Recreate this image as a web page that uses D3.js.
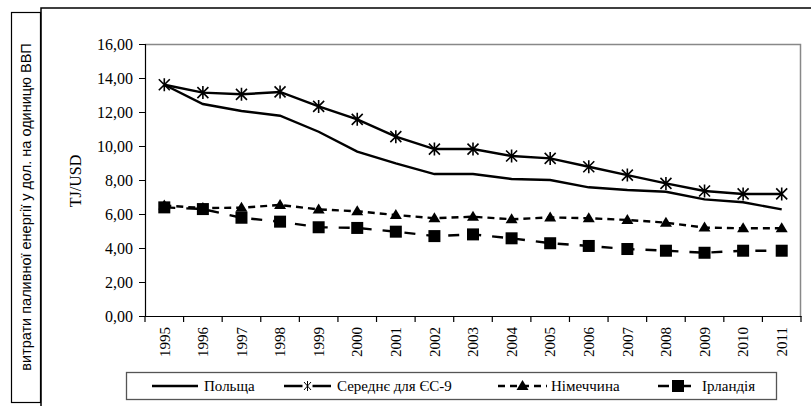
<!DOCTYPE html>
<html>
<head>
<meta charset="utf-8">
<script src="https://cdn.jsdelivr.net/npm/d3@7"></script>
<style>
  body { margin: 0; background: #fff; }
  svg { display: block; }
  svg text.sf, svg g.sf text { font-family: "Liberation Serif", "Times New Roman", "DejaVu Serif", "Noto Serif", serif !important; }
</style>
</head>
<body>
<div id="chart"></div>
<script>
// chart values
var years = ["1995", "1996", "1997", "1998", "1999", "2000", "2001", "2002", "2003",
    "2004", "2005", "2006", "2007", "2008", "2009", "2010", "2011"];
var poland = [13.6, 12.47, 12.06, 11.78, 10.84, 9.67, 8.98, 8.35, 8.35,
    8.06, 8.0, 7.57, 7.41, 7.31, 6.86, 6.69, 6.27];
var eu9 = [13.6, 13.14, 13.04, 13.18, 12.33, 11.57, 10.55, 9.82, 9.82,
    9.41, 9.27, 8.78, 8.29, 7.8, 7.35, 7.18, 7.18];
var germany = [6.5, 6.35, 6.37, 6.53, 6.27, 6.16, 5.94, 5.75, 5.84,
    5.69, 5.8, 5.75, 5.65, 5.49, 5.2, 5.16, 5.16];
var ireland = [6.39, 6.29, 5.78, 5.55, 5.22, 5.18, 4.96, 4.7, 4.8,
    4.57, 4.28, 4.12, 3.94, 3.84, 3.72, 3.84, 3.84];
var yTicks = [0, 2, 4, 6, 8, 10, 12, 14, 16];
var seriesNames = ["Польща", "Середнє для ЄС-9", "Німеччина", "Ірландія"];
var yTitle = "TJ/USD";
var sideTitle = "витрати паливної енергії у дол. на одиницю ВВП";

// Set up chart area
var svgWidth = 811;
var svgHeight = 406;
var margin = { top: 44, right: 10, bottom: 90, left: 145 };
var width = svgWidth - margin.left - margin.right;
var height = svgHeight - margin.top - margin.bottom;

var svg = d3.select("#chart")
    .append("svg")
    .attr("width", svgWidth)
    .attr("height", svgHeight);

// outer frame (only top and left edges are visible)
svg.append("path")
    .attr("d", "M41,406 L41,8 L811,8")
    .attr("fill", "none")
    .attr("stroke", "#000")
    .attr("stroke-width", 1.5);

// side box with title
svg.append("rect")
    .attr("x", 11.5).attr("y", 12.5)
    .attr("width", 29).attr("height", 390)
    .attr("fill", "#fff")
    .attr("stroke", "#000")
    .attr("stroke-width", 1.2);

svg.append("text")
    .attr("transform", "translate(31, 207) rotate(-90)")
    .attr("text-anchor", "middle")
    .style("font-family", "'Liberation Sans', Arial, sans-serif")
    .style("font-size", "14.5px")
    .text(sideTitle);

var chartGroup = svg.append("g")
    .attr("transform", `translate(${margin.left}, ${margin.top})`);

// Scales
var xScale = d3.scaleBand()
    .domain(years)
    .range([0, width]);

var yScale = d3.scaleLinear()
    .domain([0, 16])
    .range([height, 0]);

var fmt = d3.formatLocale({ decimal: ",", thousands: " ", grouping: [3], currency: ["", ""] }).format(".2f");

// plot frame, grey top and right
chartGroup.append("path")
    .attr("d", `M0,0.5 H${width - 0.5} V${height}`)
    .attr("fill", "none")
    .attr("stroke", "#888")
    .attr("stroke-width", 1.5);

// Axes
var leftAxis = d3.axisLeft(yScale)
    .tickValues(yTicks)
    .tickSize(6)
    .tickPadding(6)
    .tickFormat(fmt);

var yAxisG = chartGroup.append("g")
    .call(leftAxis)
    .attr("class", "sf")
    .attr("font-size", 16);
yAxisG.select(".domain").attr("stroke", "#000").attr("stroke-width", 1.2);
yAxisG.selectAll("text").attr("fill", "#000");

var bottomAxis = d3.axisBottom(xScale)
    .tickSize(0)
    .tickPadding(9);

var xAxisG = chartGroup.append("g")
    .attr("transform", `translate(0, ${height})`)
    .call(bottomAxis)
    .attr("class", "sf")
    .attr("font-size", 15);
xAxisG.select(".domain").attr("stroke", "#000").attr("stroke-width", 1.2);
xAxisG.selectAll("text")
    .attr("fill", "#000")
    .attr("text-anchor", "end")
    .attr("dy", "0.35em")
    .attr("transform", "rotate(-90)")
    .attr("x", -11)
    .attr("y", 0);

// tick marks at the category boundaries
xAxisG.selectAll(".sep")
    .data(years.concat(["end"]))
    .enter()
    .append("line")
    .attr("x1", (d, i) => i * xScale.bandwidth())
    .attr("x2", (d, i) => i * xScale.bandwidth())
    .attr("y1", 0)
    .attr("y2", 6)
    .attr("stroke", "#000")
    .attr("stroke-width", 1.2);

// y axis title
svg.append("text")
    .attr("class", "sf")
    .attr("transform", "translate(81, 181) rotate(-90)")
    .attr("text-anchor", "middle")
    .style("font-size", "16px")
    .text(yTitle);

// Lines
var cx = d => xScale(d.year) + xScale.bandwidth() / 2;
var line = d3.line().x(cx).y(d => yScale(d.v));

function toPoints(values) {
    return values.map((v, i) => ({ year: years[i], v: v }));
}

var series = [
    { name: seriesNames[0], pts: toPoints(poland), dash: null, marker: null },
    { name: seriesNames[1], pts: toPoints(eu9), dash: null, marker: "star" },
    { name: seriesNames[2], pts: toPoints(germany), dash: "7,5", marker: "tri" },
    { name: seriesNames[3], pts: toPoints(ireland), dash: "11,11", marker: "sq" }
];

function drawMarker(g, type, x, y) {
    if (type === "star") {
        var s = 5.5;
        g.append("path")
            .attr("d", `M${x - s},${y - s} L${x + s},${y + s} M${x - s},${y + s} L${x + s},${y - s} M${x},${y - s - 1} L${x},${y + s + 1}`)
            .attr("stroke", "#000")
            .attr("stroke-width", 1.6)
            .attr("fill", "none");
    } else if (type === "tri") {
        g.append("path")
            .attr("d", `M${x},${y - 6} L${x + 6},${y + 4} L${x - 6},${y + 4} Z`)
            .attr("fill", "#000");
    } else if (type === "sq") {
        g.append("rect")
            .attr("x", x - 6).attr("y", y - 6)
            .attr("width", 12).attr("height", 12)
            .attr("fill", "#000");
    }
}

// draw lower series first so the upper ones sit on top
[3, 2, 0, 1].forEach(function (k) {
    var s = series[k];
    chartGroup.append("path")
        .datum(s.pts)
        .attr("d", line)
        .attr("fill", "none")
        .attr("stroke", "#000")
        .attr("stroke-width", 2.4)
        .attr("stroke-dasharray", s.dash);
    if (s.marker) {
        var mg = chartGroup.append("g");
        s.pts.forEach(d => drawMarker(mg, s.marker, cx(d), yScale(d.v)));
    }
});

// Legend
var legend = svg.append("g");
legend.append("rect")
    .attr("x", 126.5).attr("y", 372.5)
    .attr("width", 650).attr("height", 27)
    .attr("fill", "#fff")
    .attr("stroke", "#555")
    .attr("stroke-width", 1.3);

var legendPos = [
    { x1: 152, x2: 198, tx: 204 },
    { x1: 284, x2: 331, tx: 337 },
    { x1: 498, x2: 547, tx: 551 },
    { x1: 658, x2: 698, tx: 702 }
];
var ly = 386;
series.forEach(function (s, i) {
    var p = legendPos[i];
    legend.append("line")
        .attr("x1", p.x1).attr("x2", p.x2)
        .attr("y1", ly).attr("y2", ly)
        .attr("stroke", "#000")
        .attr("stroke-width", 2.4)
        .attr("stroke-dasharray", s.dash);
    if (s.marker) {
        var mx = (p.x1 + p.x2) / 2;
        if (s.marker === "star") {
            legend.append("rect").attr("x", mx - 5).attr("y", ly - 3).attr("width", 10).attr("height", 6).attr("fill", "#fff");
            legend.append("path")
                .attr("d", `M${mx - 3.5},${ly - 4} L${mx + 3.5},${ly + 4} M${mx - 3.5},${ly + 4} L${mx + 3.5},${ly - 4} M${mx},${ly - 5} L${mx},${ly + 5}`)
                .attr("stroke", "#000").attr("stroke-width", 1).attr("fill", "none");
        } else {
            drawMarker(legend, s.marker, mx, ly);
        }
    }
    legend.append("text")
        .attr("class", "sf")
        .attr("x", p.tx)
        .attr("y", ly)
        .attr("dy", "0.35em")
        .style("font-size", "15px")
        .text(s.name);
});
</script>
</body>
</html>
